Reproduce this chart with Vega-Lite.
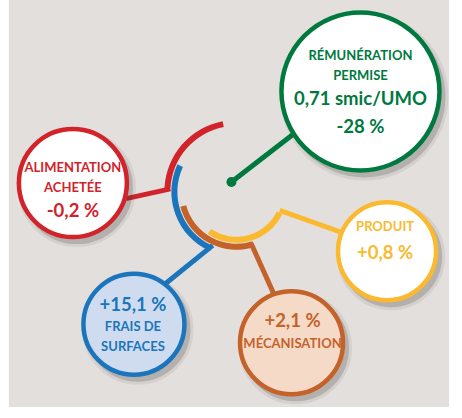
{
  "$schema": "https://vega.github.io/schema/vega-lite/v6.json",
  "width": 462,
  "height": 418,
  "autosize": {"type": "fit", "contains": "padding"},
  "padding": 0,
  "background": "#ffffff",
  "config": {"view": {"stroke": null}},
  "datasets": {
    "bg": [{"x": 9, "x2": 456, "y": 0, "y2": 418}],
    "rings": [
      {"name": "ali", "x": 240, "y": 197, "level": 4, "t0": 273, "t1": 349},
      {"name": "fra", "x": 240, "y": 197, "level": 3, "t0": 204, "t1": 295},
      {"name": "mec", "x": 240, "y": 197, "level": 2, "t0": 162, "t1": 255},
      {"name": "pro", "x": 240, "y": 197, "level": 1, "t0": 116, "t1": 214}
    ],
    "links": [
      {"name": "ali", "o": 0, "x": 173, "y": 194},
      {"name": "ali", "o": 1, "x": 128, "y": 204},
      {"name": "rem", "o": 0, "x": 235, "y": 187},
      {"name": "rem", "o": 1, "x": 300, "y": 136},
      {"name": "pro", "o": 0, "x": 284, "y": 216},
      {"name": "pro", "o": 1, "x": 345, "y": 238},
      {"name": "fra", "o": 0, "x": 216, "y": 252},
      {"name": "fra", "o": 1, "x": 166, "y": 293},
      {"name": "mec", "o": 0, "x": 255, "y": 250},
      {"name": "mec", "o": 1, "x": 279, "y": 304}
    ],
    "dot": [{"name": "rem", "x": 235, "y": 187}],
    "circles": [
      {"name": "rem", "x": 366, "y": 94},
      {"name": "ali", "x": 74, "y": 188},
      {"name": "pro", "x": 393, "y": 258},
      {"name": "fra", "x": 136, "y": 333},
      {"name": "mec", "x": 296, "y": 352}
    ],
    "labels": [
      {"name": "rem", "kind": "label", "x": 366, "y": 57, "text": "RÉMUNÉRATION"},
      {"name": "rem", "kind": "label", "x": 366, "y": 78, "text": "PERMISE"},
      {"name": "rem", "kind": "value", "x": 366, "y": 102, "text": "0,71 smic/UMO"},
      {"name": "rem", "kind": "value", "x": 366, "y": 130, "text": "-28 %"},
      {"name": "ali", "kind": "label", "x": 74, "y": 173, "text": "ALIMENTATION"},
      {"name": "ali", "kind": "label", "x": 74, "y": 193, "text": "ACHETÉE"},
      {"name": "ali", "kind": "value", "x": 74, "y": 217, "text": "-0,2 %"},
      {"name": "pro", "kind": "label", "x": 391, "y": 233, "text": "PRODUIT"},
      {"name": "pro", "kind": "value", "x": 391, "y": 260, "text": "+0,8 %"},
      {"name": "fra", "kind": "value", "x": 135, "y": 313, "text": "+15,1 %"},
      {"name": "fra", "kind": "label", "x": 135, "y": 336, "text": "FRAIS DE"},
      {"name": "fra", "kind": "label", "x": 135, "y": 356, "text": "SURFACES"},
      {"name": "mec", "kind": "value", "x": 297, "y": 330, "text": "+2,1 %"},
      {"name": "mec", "kind": "label", "x": 297, "y": 353, "text": "MÉCANISATION"}
    ]
  },
  "encoding": {
    "x": {"field": "x", "type": "quantitative", "scale": {"domain": [0, 462], "nice": false}, "axis": null},
    "y": {"field": "y", "type": "quantitative", "scale": {"domain": [0, 418], "nice": false, "reverse": true}, "axis": null}
  },
  "layer": [
    {
      "data": {"name": "bg"},
      "mark": {"type": "rect", "color": "#e3dfdc"},
      "encoding": {"x2": {"field": "x2"}, "y2": {"field": "y2"}}
    },
    {
      "data": {"name": "links"},
      "mark": {"type": "line", "strokeWidth": 5, "strokeCap": "butt"},
      "encoding": {
        "detail": {"field": "name"},
        "order": {"field": "o"},
        "stroke": {"field": "name", "type": "nominal", "legend": null,
          "scale": {"domain": ["rem", "ali", "pro", "fra", "mec"], "range": ["#00793f", "#d2232a", "#fbb92f", "#1b75bc", "#c5622a"]}}
      }
    },
    {
      "data": {"name": "rings"},
      "mark": {"type": "arc", "radiusOffset": 3, "radius2Offset": -3},
      "encoding": {
        "theta": {"field": "t0", "type": "quantitative", "stack": null, "scale": {"domain": [0, 360], "range": [0, 6.283185307]}},
        "theta2": {"field": "t1"},
        "radius": {"field": "level", "type": "quantitative", "scale": {"type": "linear", "domain": [1, 4], "range": [48, 69], "zero": false}},
        "radius2": {"field": "level"},
        "color": {"field": "name", "type": "nominal", "legend": null,
          "scale": {"domain": ["rem", "ali", "pro", "fra", "mec"], "range": ["#00793f", "#d2232a", "#fbb92f", "#1b75bc", "#c5622a"]}}
      }
    },
    {
      "data": {"name": "dot"},
      "mark": {"type": "point", "shape": "circle", "filled": true, "opacity": 1, "size": 100, "color": "#00793f"}
    },
    {
      "data": {"name": "circles"},
      "mark": {"type": "point", "shape": "circle", "filled": true, "opacity": 0.08, "color": "#333", "stroke": "#333", "strokeWidth": 10, "xOffset": 4, "yOffset": 5},
      "encoding": {
        "size": {"field": "name", "type": "nominal", "legend": null,
          "scale": {"type": "ordinal", "domain": ["rem", "ali", "pro", "fra", "mec"], "range": [24964, 11664, 9604, 10201, 10609]}}
      }
    },
    {
      "data": {"name": "circles"},
      "mark": {"type": "point", "shape": "circle", "filled": true, "opacity": 0.2, "color": "#333", "stroke": "#333", "strokeWidth": 4, "xOffset": 4, "yOffset": 5},
      "encoding": {
        "size": {"field": "name", "type": "nominal", "legend": null,
          "scale": {"type": "ordinal", "domain": ["rem", "ali", "pro", "fra", "mec"], "range": [24964, 11664, 9604, 10201, 10609]}}
      }
    },
    {
      "data": {"name": "circles"},
      "mark": {"type": "point", "shape": "circle", "opacity": 1, "strokeWidth": 4.5},
      "encoding": {
        "size": {"field": "name", "type": "nominal", "legend": null,
          "scale": {"type": "ordinal", "domain": ["rem", "ali", "pro", "fra", "mec"], "range": [24964, 11664, 9604, 10201, 10609]}},
        "fill": {"field": "name", "type": "nominal", "legend": null,
          "scale": {"domain": ["rem", "ali", "pro", "fra", "mec"], "range": ["#ffffff", "#ffffff", "#ffffff", "#cfdcef", "#f6dac8"]}},
        "stroke": {"field": "name", "type": "nominal", "legend": null,
          "scale": {"domain": ["rem", "ali", "pro", "fra", "mec"], "range": ["#00793f", "#d2232a", "#fbb92f", "#1b75bc", "#c5622a"]}}
      }
    },
    {
      "data": {"name": "labels"},
      "transform": [{"filter": "datum.kind === 'label'"}],
      "mark": {"type": "text", "font": "Lato", "fontWeight": "bold", "fontSize": 13, "align": "center", "baseline": "middle"},
      "encoding": {
        "text": {"field": "text"},
        "color": {"field": "name", "type": "nominal", "legend": null,
          "scale": {"domain": ["rem", "ali", "pro", "fra", "mec"], "range": ["#00793f", "#d2232a", "#fbb92f", "#1b75bc", "#c5622a"]}}
      }
    },
    {
      "data": {"name": "labels"},
      "transform": [{"filter": "datum.kind === 'value'"}],
      "mark": {"type": "text", "font": "Lato", "fontWeight": "bold", "fontSize": 18.5, "align": "center", "baseline": "middle"},
      "encoding": {
        "text": {"field": "text"},
        "color": {"field": "name", "type": "nominal", "legend": null,
          "scale": {"domain": ["rem", "ali", "pro", "fra", "mec"], "range": ["#00793f", "#d2232a", "#fbb92f", "#1b75bc", "#c5622a"]}}
      }
    }
  ]
}
